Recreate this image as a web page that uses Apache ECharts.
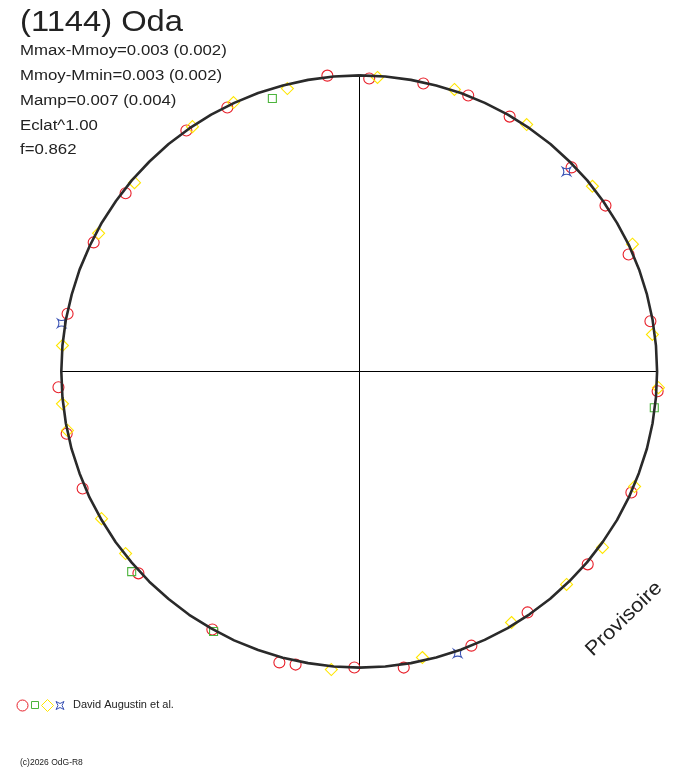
<!DOCTYPE html>
<html>
<head>
<meta charset="utf-8">
<script src="https://cdn.jsdelivr.net/npm/echarts@6/dist/echarts.min.js"></script>
<style>
html,body{margin:0;padding:0;background:#fff;}
#chart{width:688px;height:768px;}
</style>
</head>
<body>
<div id="chart"></div>
<script>
// ---- texts ----
var titleText = '(1144) Oda';
var statLines = ['Mmax-Mmoy=0.003 (0.002)', 'Mmoy-Mmin=0.003 (0.002)', 'Mamp=0.007 (0.004)', 'Eclat^1.00', 'f=0.862'];
var authorText = 'David Augustin et al.';
var copyText = '(c)2026 OdG-R8';
var stampText = 'Provisoire';

// ---- fitted curve: relative radius every 5 degrees of phase (clockwise from top) ----
var curveAngles = [0,5,10,15,20,25,30,35,40,45,50,55,60,65,70,75,80,85,90,95,100,105,110,115,120,125,130,135,140,145,150,155,160,165,170,175,
                   180,185,190,195,200,205,210,215,220,225,230,235,240,245,250,255,260,265,270,275,280,285,290,295,300,305,310,315,320,325,330,335,340,345,350,355,360];
var curveRadii = [0.997,0.997,0.997,0.997,0.998,0.998,0.999,0.999,1.000,1.000,1.001,1.001,1.001,1.002,1.002,1.002,1.002,1.002,
                  1.002,1.002,1.002,1.002,1.001,1.001,1.001,1.000,1.000,0.999,0.999,0.998,0.998,0.997,0.997,0.997,0.997,0.997,
                  0.997,0.997,0.997,0.998,0.998,0.999,0.999,1.000,1.000,1.001,1.001,1.002,1.002,1.003,1.003,1.004,1.004,1.004,
                  1.004,1.004,1.004,1.003,1.003,1.002,1.002,1.001,1.001,1.000,1.000,0.999,0.999,0.998,0.998,0.997,0.997,0.997,0.997];

// ---- observations: [relative radius, phase angle in degrees] ----
var redPts = [
  [1.002,353.8],[0.987,1.9],[0.993,12.5],[0.999,21.5],[0.996,30.5],[0.991,46.1],[0.999,56.0],
  [0.988,66.5],[0.994,80.2],[1.006,93.8],[1.002,114.0],[1.006,130.2],[0.989,145.1],[0.997,157.8],
  [1.008,171.5],[0.997,181.0],[1.010,192.3],[1.016,195.4],[1.000,209.7],[1.008,227.6],[1.012,247.1],
  [1.008,258.0],[1.015,267.0],[1.002,281.2],[0.995,295.9],[0.990,307.3],[0.999,324.3],[0.994,333.4]
];
var yellowPts = [
  [0.992,3.5],[1.002,18.6],[1.004,34.1],[1.002,51.5],[1.014,65.0],[0.994,82.8],[1.008,93.1],
  [1.004,112.7],[1.010,125.9],[1.000,135.8],[0.988,148.8],[0.986,167.6],[1.008,185.4],[0.998,232.1],
  [1.000,240.3],[1.003,258.6],[1.006,263.8],[1.004,275.0],[0.994,297.9],[0.989,310.0],[0.998,325.7],
  [1.000,334.9],[0.983,345.7]
];
var greenPts = [[0.965,342.3],[1.000,97.0],[1.021,228.7],[1.004,209.3]];
var bluePts = [[0.969,46.0],[1.016,279.2],[1.005,160.8]];

var RED = '#e8202a', GREEN = '#4cb43c', YELLOW = '#ffe600', BLUE = '#3a52b4';
var starPath = 'path://M-1,-1 Q0,-0.35 1,-1 Q0.35,0 1,1 Q0,0.35 -1,1 Q-0.35,0 -1,-1 Z';

var RMAX = 1.05;          // radius-axis maximum (leaves room outside the curve)
var UNIT_PX = 297;        // pixels for a relative radius of 1

var curveData = curveAngles.map(function (a, i) { return [curveRadii[i], a]; });
// crosshair arms run from the centre to the fitted curve
function radiusAt(a) { return curveRadii[curveAngles.indexOf(a)]; }
var crossV = [[radiusAt(0), 0], [0, 0], [radiusAt(180), 180]];
var crossH = [[radiusAt(90), 90], [0, 0], [radiusAt(270), 270]];

function sc(name, pts, symbol, size, color, z) {
  return {
    name: name, type: 'scatter', coordinateSystem: 'polar', data: pts, clip: false,
    symbol: symbol, symbolSize: size, z: z, silent: true,
    itemStyle: { color: 'rgba(0,0,0,0)', borderColor: color, borderWidth: 1.1, opacity: 1 }
  };
}
function ln(name, pts, color, width, z) {
  return {
    name: name, type: 'line', coordinateSystem: 'polar', data: pts, clip: false,
    showSymbol: false, smooth: false, silent: true, z: z,
    lineStyle: { color: color, width: width }
  };
}

function txt(x, y, s, size, sx) {
  return {
    type: 'text', x: x, y: y, scaleX: sx, silent: true,
    style: { text: s, fontFamily: 'Liberation Sans, Arial, sans-serif', fontSize: size,
             fill: '#222', textAlign: 'left', textVerticalAlign: 'middle' }
  };
}

var chart = echarts.init(document.getElementById('chart'), null, { renderer: 'canvas' });

var statY = [51.5, 76.5, 101.5, 126, 150.5];
var graphics = [
  txt(20, 23, titleText, 30, 1.09),
  txt(73, 705.5, authorText, 10, 1.1),
  txt(20, 763, copyText, 8.5, 1.0),
  {
    type: 'text', x: 624, y: 619, rotation: 44 * Math.PI / 180, silent: true,
    style: { text: stampText, fontFamily: 'Liberation Sans, Arial, sans-serif', fontSize: 20,
             fill: '#222', textAlign: 'center', textVerticalAlign: 'middle' },
    scaleX: 1.1
  },
  { type: 'circle', shape: { cx: 22.5, cy: 705.5, r: 5.5 }, style: { fill: 'none', stroke: RED, lineWidth: 1 } },
  { type: 'rect', shape: { x: 31.5, y: 701.5, width: 7, height: 7 }, style: { fill: 'none', stroke: GREEN, lineWidth: 1 } },
  { type: 'polygon', shape: { points: [[47.5, 699.5], [53.5, 705.5], [47.5, 711.5], [41.5, 705.5]] }, style: { fill: 'none', stroke: YELLOW, lineWidth: 1 } },
  { type: 'polygon', shape: { points: [[56, 701.5], [60, 703.5], [64, 701.5], [62, 705.5], [64, 709.5], [60, 707.5], [56, 709.5], [58, 705.5]] }, style: { fill: 'none', stroke: BLUE, lineWidth: 1 } }
];
statLines.forEach(function (s, i) { graphics.push(txt(20, statY[i], s, 14, 1.2)); });

chart.setOption({
  animation: false,
  backgroundColor: '#fff',
  polar: { center: [359.5, 371.5], radius: UNIT_PX * RMAX },
  angleAxis: {
    type: 'value', min: 0, max: 360, interval: 90, startAngle: 90, clockwise: true,
    axisLine: { show: false }, axisTick: { show: false }, axisLabel: { show: false },
    splitLine: { show: false }
  },
  radiusAxis: {
    type: 'value', min: 0, max: RMAX,
    axisLine: { show: false }, axisTick: { show: false }, axisLabel: { show: false },
    splitLine: { show: false }
  },
  series: [
    ln('crossV', crossV, '#000', 1, 1),
    ln('crossH', crossH, '#000', 1, 1),
    sc('red', redPts, 'circle', 11, RED, 2),
    sc('green', greenPts, 'rect', 8, GREEN, 2),
    sc('yellow', yellowPts, 'diamond', 12, YELLOW, 2),
    sc('blue', bluePts, starPath, 8, BLUE, 2),
    ln('curve', curveData, '#2a2a2a', 2.6, 3)
  ],
  graphic: graphics
});
</script>
</body>
</html>
